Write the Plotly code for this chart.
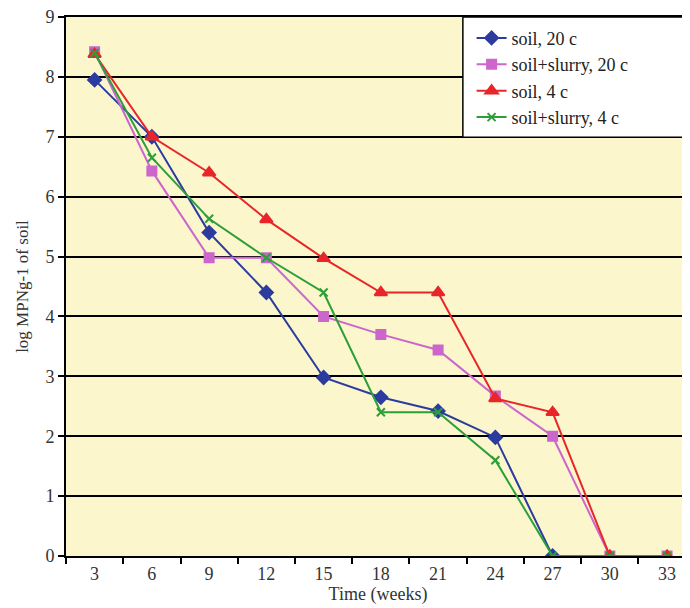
import plotly.graph_objects as go

weeks = ["3", "6", "9", "12", "15", "18", "21", "24", "27", "30", "33"]
soil_20 = [7.95, 7.0, 5.4, 4.4, 2.98, 2.65, 2.42, 1.98, 0.0]
slurry_20 = [8.42, 6.43, 4.98, 4.98, 4.0, 3.7, 3.44, 2.67, 2.0, 0.0, 0.0]
soil_4 = [8.38, 7.0, 6.4, 5.62, 4.97, 4.4, 4.4, 2.63, 2.4, 0.0, 0.0]
slurry_4 = [8.4, 6.65, 5.63, 4.98, 4.4, 2.4, 2.4, 1.6, 0.0, 0.0, 0.0]
y_ticks = [0, 1, 2, 3, 4, 5, 6, 7, 8, 9]

series = [
    ("soil, 20 c", soil_20, "#2B3C9E", "diamond", 10),
    ("soil+slurry, 20 c", slurry_20, "#CC66CC", "square", 9),
    ("soil, 4 c", soil_4, "#E8262A", "triangle-up", 11),
    ("soil+slurry, 4 c", slurry_4, "#2E9E3A", "x-thin", 8),
]

fig = go.Figure()
for name, vals, color, sym, size in series:
    fig.add_trace(go.Scatter(
        x=weeks[:len(vals)], y=vals, name=name, mode="lines+markers",
        line=dict(color=color, width=2),
        marker=dict(symbol=sym, size=size, color=color,
                    line=dict(color=color, width=2)),
    ))

font = "Liberation Serif, Times New Roman, serif"
# legend frame drawn as a box reaching the right edge
fig.add_shape(type="rect", xref="paper", yref="paper",
              x0=0.636, x1=1.0, y0=0.777, y1=1.0, layer="above",
              fillcolor="white", line=dict(color="black", width=1.5))

# page body has an 8px default margin, so the figure is sized to fit the window
fig.update_layout(
    width=682, height=600,
    margin=dict(l=58, r=0, t=9, b=52),
    paper_bgcolor="white", plot_bgcolor="#FBF6CC",
    font=dict(family=font, size=18, color="#333"),
    showlegend=True,
    legend=dict(x=0.65, y=0.995, xanchor="left", yanchor="top",
                bgcolor="rgba(0,0,0,0)", borderwidth=0,
                font=dict(family=font, size=18, color="#222"),
                tracegroupgap=0, itemwidth=30),
    xaxis=dict(type="category", categoryorder="array", categoryarray=weeks,
               range=[-0.5, 10.4], tickson="boundaries", ticks="outside",
               ticklen=6, tickcolor="black", tickwidth=2, automargin=False,
               showgrid=False, showline=True, linecolor="black", linewidth=2,
               mirror=True, ticklabeloverflow="allow",
               title=dict(text="Time (weeks)", standoff=2,
                          font=dict(family=font, size=18)),
               tickfont=dict(family=font, size=18)),
    yaxis=dict(range=[0, 9], tickvals=y_ticks, ticks="outside", ticklen=6,
               tickcolor="black", tickwidth=2, automargin=False,
               showgrid=True, gridcolor="black", gridwidth=2,
               showline=True, linecolor="black", linewidth=2,
               zeroline=False, ticklabeloverflow="allow",
               title=dict(text="log MPNg-1 of soil", standoff=12,
                          font=dict(family=font, size=17)),
               tickfont=dict(family=font, size=18)),
)
fig.write_html("out.html")
